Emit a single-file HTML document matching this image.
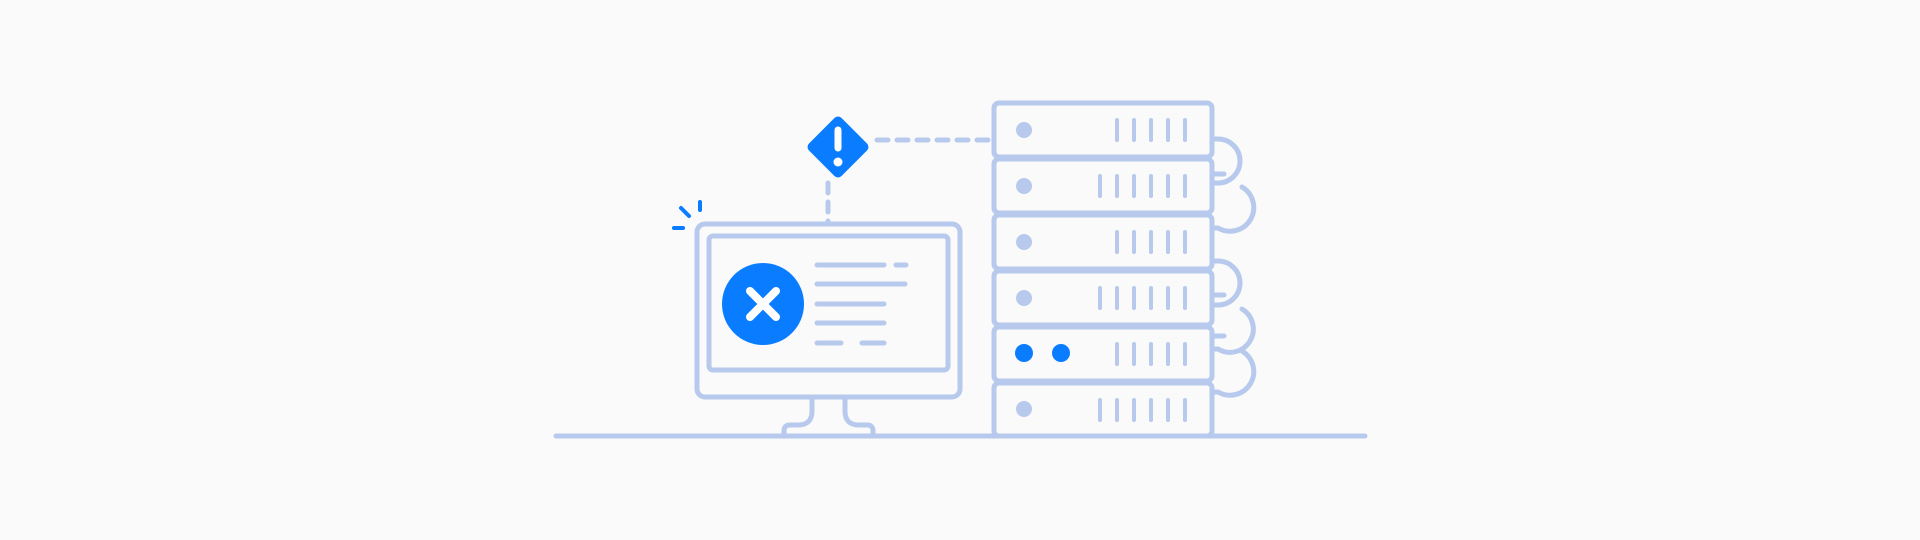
<!DOCTYPE html>
<html><head><style>html,body{margin:0;padding:0;background:#fafafa;}svg{display:block}</style></head>
<body>
<svg width="1920" height="540" viewBox="0 0 1920 540" xmlns="http://www.w3.org/2000/svg">
<rect width="1920" height="540" fill="#fafafa"/>
<g fill="none" stroke="#b7c9ec" stroke-width="5" stroke-linecap="round" stroke-linejoin="round">
<line x1="556" y1="436" x2="1365" y2="436"/>
<!-- monitor -->
<rect x="697" y="224" width="263" height="173" rx="8"/>
<rect x="709" y="236" width="239" height="134" rx="4"/>
<path d="M812 399 v12 q0 14 -14 14 h-8 q-6 0 -6 6 v5"/>
<path d="M845 399 v12 q0 14 14 14 h8 q6 0 6 6 v5"/>
<line x1="817" y1="265" x2="884" y2="265"/><line x1="896" y1="265" x2="906" y2="265"/>
<line x1="817" y1="284" x2="905" y2="284"/>
<line x1="817" y1="304" x2="884" y2="304"/>
<line x1="817" y1="323" x2="884" y2="323"/>
<line x1="817" y1="343" x2="841" y2="343"/><line x1="862" y1="343" x2="884" y2="343"/>
<!-- dashes -->
<line x1="828" y1="183" x2="828" y2="223" stroke-dasharray="10 9"/>
<line x1="877" y1="140" x2="992" y2="140" stroke-dasharray="11 9"/>
<!-- server -->
<rect x="994" y="103" width="218" height="54" rx="5"/>
<rect x="994" y="159" width="218" height="54" rx="5"/>
<rect x="994" y="215" width="218" height="54" rx="5"/>
<rect x="994" y="271" width="218" height="54" rx="5"/>
<rect x="994" y="327" width="218" height="54" rx="5"/>
<rect x="994" y="383" width="218" height="53" rx="5"/>
<!-- bars -->
<g stroke-width="4">
<path d="M1117 120v20M1134 120v20M1151 120v20M1168 120v20M1185 120v20"/>
<path d="M1100 176v20M1117 176v20M1134 176v20M1151 176v20M1168 176v20M1185 176v20"/>
<path d="M1117 232v20M1134 232v20M1151 232v20M1168 232v20M1185 232v20"/>
<path d="M1100 288v20M1117 288v20M1134 288v20M1151 288v20M1168 288v20M1185 288v20"/>
<path d="M1117 344v20M1134 344v20M1151 344v20M1168 344v20M1185 344v20"/>
<path d="M1100 400v20M1117 400v20M1134 400v20M1151 400v20M1168 400v20M1185 400v20"/>
</g>
<!-- loops -->
<path d="M1214 139 h4 a22 22 0 0 1 0 44 h-4"/>
<path d="M1242 187 a22 22 0 0 1 -24 41 h-4"/>
<path d="M1214 261 h4 a22 22 0 0 1 0 44 h-4"/>
<path d="M1242 309 a22 22 0 0 1 -24 40 h-4"/>
<path d="M1242 351 a22 22 0 0 1 -24 41 h-4"/>
<line x1="1214" y1="174" x2="1224" y2="174"/>
<line x1="1214" y1="295" x2="1224" y2="295"/>
<line x1="1214" y1="336" x2="1224" y2="336"/>
</g>
<g fill="#b7c9ec">
<circle cx="1024" cy="130" r="8"/><circle cx="1024" cy="186" r="8"/><circle cx="1024" cy="242" r="8"/>
<circle cx="1024" cy="298" r="8"/><circle cx="1024" cy="409" r="8"/>
</g>
<g fill="#0a7cff">
<circle cx="1024" cy="353" r="9"/><circle cx="1061" cy="353" r="9"/>
<circle cx="763" cy="304" r="41"/>
<rect x="815" y="124" width="46" height="46" rx="5" transform="rotate(45 838 147)"/>
</g>
<g stroke="#fff" stroke-width="8" stroke-linecap="round">
<line x1="750" y1="291" x2="776" y2="317"/><line x1="776" y1="291" x2="750" y2="317"/>
<line x1="838" y1="130" x2="838" y2="148" stroke-width="7"/>
</g>
<circle cx="838" cy="162" r="4.5" fill="#fff"/>
<g stroke="#0a7cff" stroke-width="4" stroke-linecap="round">
<line x1="681" y1="208" x2="689" y2="216"/>
<line x1="700" y1="202" x2="700" y2="210"/>
<line x1="674" y1="228" x2="683" y2="228"/>
</g>
</svg>
</body></html>
